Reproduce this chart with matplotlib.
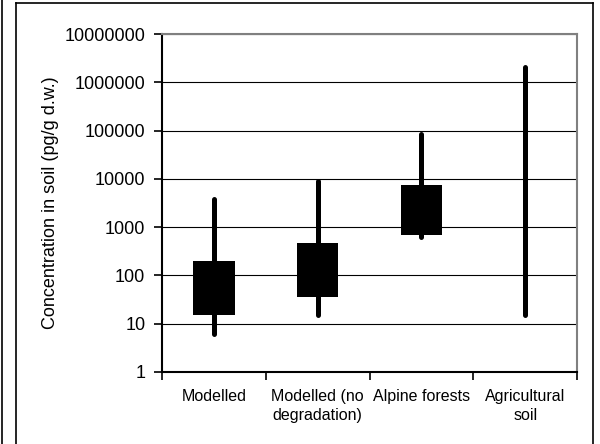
import matplotlib
matplotlib.use("Agg")
import matplotlib.pyplot as plt
from matplotlib.lines import Line2D
from matplotlib.ticker import FixedLocator, FuncFormatter, NullLocator

# valeurs (pg/g d.w.)
categories = ["Modelled", "Modelled (no\ndegradation)", "Alpine forests", "Agricultural\nsoil"]
whisker_low = [6, 15, 620, 15]
whisker_high = [3800, 9000, 85000, 2100000]
box_low = [15, 36, 690, None]
box_high = [200, 470, 7400, None]
y_ticks = [1, 10, 100, 1000, 10000, 100000, 1000000, 10000000]

plt.rcParams["font.family"] = ["Liberation Sans", "DejaVu Sans"]

fig = plt.figure(figsize=(6, 4.44), dpi=100)
ax = fig.add_axes([0.27, 0.1622, 0.6917, 0.7612])

x = list(range(len(categories)))

# moustaches
lc = ax.vlines(x, whisker_low, whisker_high, colors="black", linewidth=3.6, zorder=3)
lc.set_capstyle("round")

# boites
for xi, lo, hi in zip(x, box_low, box_high):
    if lo is None:
        continue
    ax.bar(xi, hi - lo, bottom=lo, width=0.4, color="black", zorder=4)

ax.set_yscale("log")
ax.set_ylim(1, 10000000)
ax.set_xlim(-0.5, len(categories) - 0.5)

ax.yaxis.set_major_locator(FixedLocator(y_ticks))
ax.yaxis.set_minor_locator(NullLocator())
ax.yaxis.set_major_formatter(FuncFormatter(lambda v, p: f"{int(round(v))}"))
ax.grid(axis="y", color="black", linewidth=0.8, zorder=1)
ax.set_axisbelow(True)

ax.set_xticks(x)
ax.set_xticklabels(categories, fontsize=11.5, linespacing=1.35)
ax.set_xticks([i - 0.5 for i in range(len(categories) + 1)], minor=True)
ax.tick_params(axis="x", which="major", length=0, pad=12)
ax.tick_params(axis="x", which="minor", length=6, width=1.2, direction="out")
ax.tick_params(axis="y", labelsize=13, length=6, width=1.2, pad=6)

ax.set_ylabel("Concentration in soil (pg/g d.w.)", fontsize=13, labelpad=4)

for s in ["left", "bottom"]:
    ax.spines[s].set_color("black")
    ax.spines[s].set_linewidth(1.5)
for s in ["top", "right"]:
    ax.spines[s].set_color("#808080")
    ax.spines[s].set_linewidth(1.5)

# cadre exterieur
W, H = 600, 444
fig.add_artist(Line2D([16 / W, 16 / W], [0, 1 - 3 / H], color="black", linewidth=1.2))
fig.add_artist(Line2D([16 / W, 593 / W], [1 - 3 / H, 1 - 3 / H], color="black", linewidth=1.2))
fig.add_artist(Line2D([593 / W, 593 / W], [0, 1 - 3 / H], color="black", linewidth=1.2))
fig.add_artist(Line2D([1.5 / W, 1.5 / W], [0, 1], color="black", linewidth=1.2))

fig.savefig("out.png", dpi=100)
